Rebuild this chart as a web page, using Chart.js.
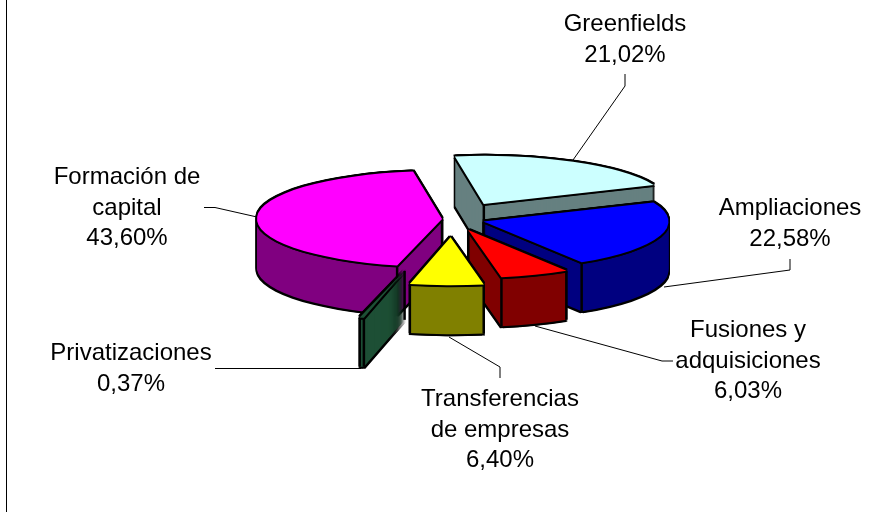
<!DOCTYPE html>
<html>
<head>
<meta charset="utf-8">
<title>Pie 3D</title>
<script src="https://cdn.jsdelivr.net/npm/chart.js@4"></script>
<style>
  html, body { margin: 0; padding: 0; background: #fff; }
  canvas { display: block; }
</style>
</head>
<body>
<canvas id="pieChart" width="886" height="512"></canvas>
<script>
// Data
const categories = ['Greenfields', 'Ampliaciones', 'Fusiones y adquisiciones', 'Transferencias de empresas', 'Privatizaciones', 'Formación de capital'];
const values = [21.02, 22.58, 6.03, 6.40, 0.37, 43.60];

// Slice styles
const topColors = ['#CCFFFF', '#0000FF', '#FF0000', '#FFFF00', '#1D4F35', '#FF00FF'];
const sideColors = ['#668080', '#000080', '#800000', '#808000', '#1D4F35', '#800080'];
const explode = [66, 33, 45, 70, 205, 10];
const drawOrder = [0, 5, 1, 2, 4, 3];

// Label layout: text lines, centre x, first baseline, leader line
const labelLines = [
  ['Greenfields'],
  ['Ampliaciones'],
  ['Fusiones y', 'adquisiciones'],
  ['Transferencias', 'de empresas'],
  ['Privatizaciones'],
  ['Formación de', 'capital']
];
const labelX = [625, 790, 748, 500, 131, 127];
const labelY = [31, 215, 337, 406, 360, 184];
const leaders = [
  [[573, 160], [625, 86], [625, 74]],
  [[664, 287], [790, 270], [790, 259]],
  [[535, 326], [662, 361], [673, 361]],
  [[449, 337], [500, 367], [500, 378]],
  [[215, 368.5], [361, 368.5]],
  [[204, 207.5], [215, 207.5], [257, 217]]
];

const tilt = 0.26;   // vertical squash of the pie
const depth = 49;    // wall height
const edge = 1.5;    // outline thickness outside the faces

// draws the arc element with another colour at a device offset
function stamp(ctx, el, i, color, dx, dy) {
  const ghost = Object.create(el);
  ghost.options = Object.assign({}, el.options, { backgroundColor: color, borderWidth: 0 });
  const mid = (el.startAngle + el.endAngle) / 2;
  ctx.save();
  ctx.translate(el.x + dx, el.y + dy);
  ctx.scale(1, tilt);
  ctx.translate(Math.cos(mid) * explode[i], Math.sin(mid) * explode[i]);
  ctx.translate(-el.x, -el.y);
  ghost.draw(ctx);
  ctx.restore();
}

// device position of a point of the slice's top face
function project(el, i, radius, angle) {
  const mid = (el.startAngle + el.endAngle) / 2;
  return {
    x: el.x + Math.cos(mid) * explode[i] + Math.cos(angle) * radius,
    y: el.y + (Math.sin(mid) * explode[i] + Math.sin(angle) * radius) * tilt
  };
}

function vertical(ctx, p) {
  ctx.beginPath();
  ctx.moveTo(p.x, p.y);
  ctx.lineTo(p.x, p.y + depth);
  ctx.stroke();
}

const pie3d = {
  id: 'pie3d',
  afterDatasetsDraw(chart) {
    const ctx = chart.ctx;
    const arcs = chart.getDatasetMeta(0).data;
    drawOrder.forEach(i => {
      const el = arcs[i];
      // wall: black silhouette, then the side colour
      for (let d = depth + 2; d >= -2; d--) {
        stamp(ctx, el, i, '#000', -edge, d);
        stamp(ctx, el, i, '#000', edge, d);
      }
      for (let d = depth; d >= 1; d--) stamp(ctx, el, i, sideColors[i], 0, d);

      // visible corners of the wall
      ctx.strokeStyle = '#000';
      ctx.lineWidth = 2.5;
      const containsDown = el.startAngle < Math.PI / 2 && el.endAngle > Math.PI / 2;
      if (!containsDown) vertical(ctx, project(el, i, 0, 0));
      [el.startAngle, el.endAngle].forEach(a => {
        if (Math.sin(a) > 0) vertical(ctx, project(el, i, el.outerRadius, a));
      });

      // top face with its outline
      [[-edge, -edge], [edge, -edge], [-edge, edge], [edge, edge], [0, -2], [0, 2]]
        .forEach(o => stamp(ctx, el, i, '#000', o[0], o[1]));
      stamp(ctx, el, i, topColors[i], 0, 0);
    });
  },
  afterDraw(chart) {
    const ctx = chart.ctx;

    // frame line on the left
    ctx.fillStyle = '#000';
    ctx.fillRect(6, 0, 1, chart.height);

    // leader lines
    ctx.strokeStyle = '#000';
    ctx.lineWidth = 1;
    leaders.forEach(points => {
      ctx.beginPath();
      points.forEach((p, n) => n ? ctx.lineTo(p[0], p[1]) : ctx.moveTo(p[0], p[1]));
      ctx.stroke();
    });

    // labels
    ctx.fillStyle = '#000';
    ctx.font = '24px "Liberation Sans", Arial, sans-serif';
    ctx.textAlign = 'center';
    ctx.textBaseline = 'alphabetic';
    categories.forEach((name, i) => {
      const lines = labelLines[i].concat(values[i].toFixed(2).replace('.', ',') + '%');
      lines.forEach((text, n) => ctx.fillText(text, labelX[i], labelY[i] + n * 30.7));
    });
  }
};

new Chart(document.getElementById('pieChart').getContext('2d'), {
  type: 'pie',
  data: {
    labels: categories,
    datasets: [{
      data: values,
      backgroundColor: 'rgba(0,0,0,0)',
      borderWidth: 0,
      radius: 185
    }]
  },
  options: {
    responsive: false,
    animation: false,
    rotation: -9,
    layout: { padding: { left: 18, bottom: 74 } },
    plugins: {
      legend: { display: false },
      tooltip: { enabled: false }
    }
  },
  plugins: [pie3d]
});
</script>
</body>
</html>
